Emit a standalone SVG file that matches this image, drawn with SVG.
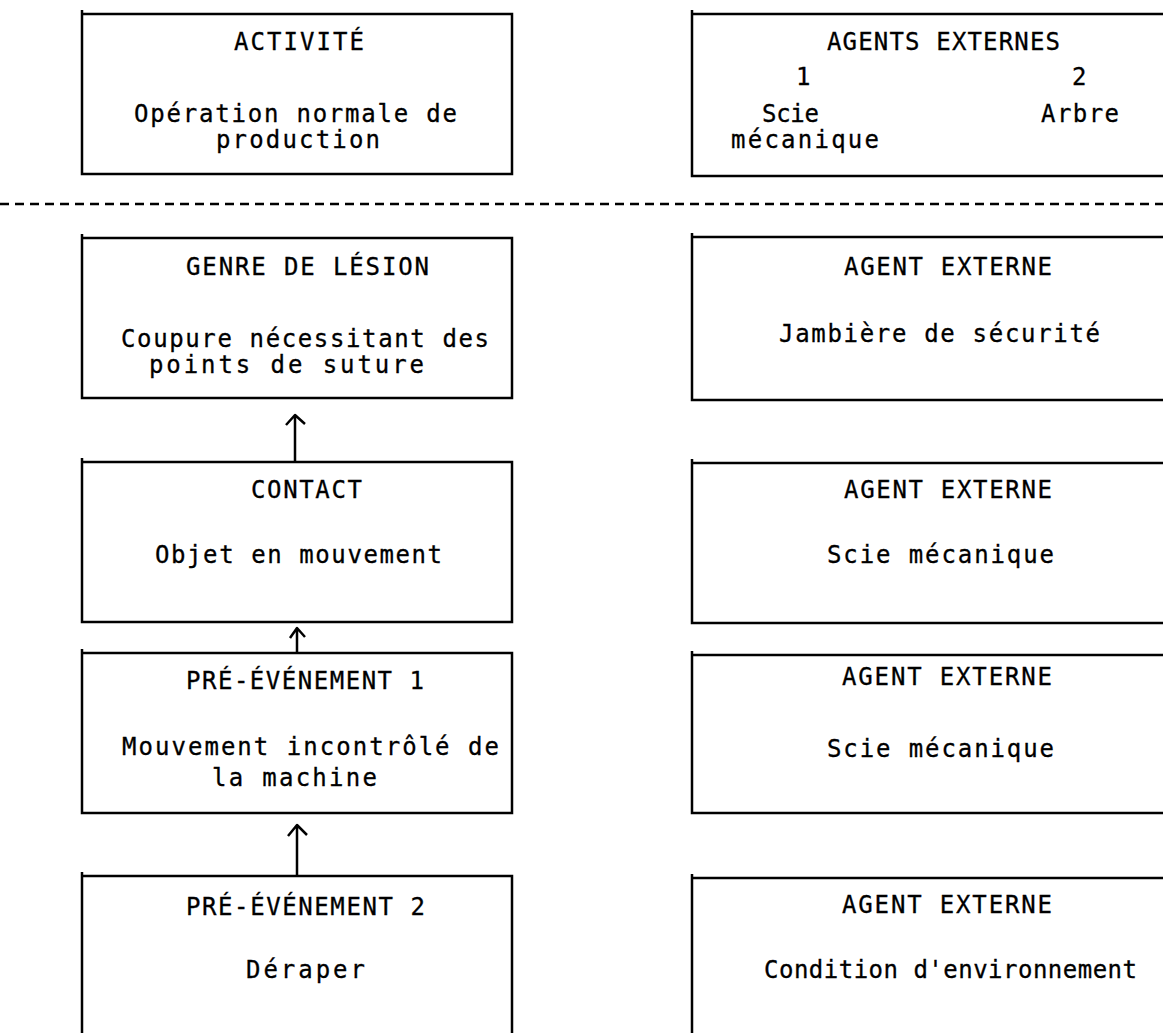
<svg xmlns="http://www.w3.org/2000/svg" width="1163" height="1033" viewBox="0 0 1163 1033">
  <style>
    .frame { fill: none; stroke: #000; stroke-width: 2.5; }
    .sep { stroke: #000; stroke-width: 2.5; stroke-dasharray: 9 6; }
    .arrow { fill: none; stroke: #000; stroke-width: 2.5; stroke-linejoin: round; }
    .t { font-family: "DejaVu Sans Mono", "Liberation Mono", monospace; font-size: 24px; fill: #000; stroke: #000; stroke-width: 0.3; }
  </style>
  <rect width="1163" height="1033" fill="#fff"/>

  <!-- upper row: activity and external agents -->
  <g id="activite">
    <path class="frame" d="M82,10 V174 H512 V14 H82"/>
    <text class="t" x="234" y="50" textLength="130" lengthAdjust="spacing">ACTIVITÉ</text>
    <text class="t" x="134" y="122" textLength="323" lengthAdjust="spacing">Opération normale de</text>
    <text class="t" x="216" y="148" textLength="164" lengthAdjust="spacing">production</text>
  </g>
  <g id="agents-externes">
    <path class="frame" d="M692,10 V176 H1170 M692,14 H1170"/>
    <text class="t" x="827" y="50" textLength="233" lengthAdjust="spacing">AGENTS EXTERNES</text>
    <text class="t" x="796" y="85">1</text>
    <text class="t" x="1072" y="85">2</text>
    <text class="t" x="762" y="122" textLength="57" lengthAdjust="spacing">Scie</text>
    <text class="t" x="1041" y="122" textLength="78" lengthAdjust="spacing">Arbre</text>
    <text class="t" x="731" y="148" textLength="148" lengthAdjust="spacing">mécanique</text>
  </g>

  <!-- dashed divider -->
  <line class="sep" x1="0" y1="204" x2="1163" y2="204"/>

  <!-- left column: event chain -->
  <g id="genre-lesion">
    <path class="frame" d="M82,234 V398 H512 V238 H82"/>
    <text class="t" x="186" y="275" textLength="243" lengthAdjust="spacing">GENRE DE LÉSION</text>
    <text class="t" x="121" y="347" textLength="368" lengthAdjust="spacing">Coupure nécessitant des</text>
    <text class="t" x="149" y="373" textLength="275" lengthAdjust="spacing">points de suture</text>
  </g>
  <g id="contact">
    <path class="frame" d="M82,458 V622 H512 V462 H82"/>
    <text class="t" x="251" y="498" textLength="111" lengthAdjust="spacing">CONTACT</text>
    <text class="t" x="155" y="563" textLength="287" lengthAdjust="spacing">Objet en mouvement</text>
  </g>
  <g id="pre-evenement-1">
    <path class="frame" d="M82,649 V813 H512 V653 H82"/>
    <text class="t" x="186" y="689" textLength="238" lengthAdjust="spacing">PRÉ-ÉVÉNEMENT 1</text>
    <text class="t" x="122" y="755" textLength="377" lengthAdjust="spacing">Mouvement incontrôlé de</text>
    <text class="t" x="212" y="786" textLength="165" lengthAdjust="spacing">la machine</text>
  </g>
  <g id="pre-evenement-2">
    <path class="frame" d="M82,1040 V872 M82,876 H512 V1040"/>
    <text class="t" x="186" y="915" textLength="239" lengthAdjust="spacing">PRÉ-ÉVÉNEMENT 2</text>
    <text class="t" x="246" y="978" textLength="119" lengthAdjust="spacing">Déraper</text>
  </g>

  <!-- right column: external agents -->
  <g id="agent-jambiere">
    <path class="frame" d="M692,233 V400 H1170 M692,237 H1170"/>
    <text class="t" x="844" y="275" textLength="208" lengthAdjust="spacing">AGENT EXTERNE</text>
    <text class="t" x="779" y="342" textLength="321" lengthAdjust="spacing">Jambière de sécurité</text>
  </g>
  <g id="agent-scie-1">
    <path class="frame" d="M692,459 V623 H1170 M692,463 H1170"/>
    <text class="t" x="844" y="498" textLength="208" lengthAdjust="spacing">AGENT EXTERNE</text>
    <text class="t" x="827" y="563" textLength="227" lengthAdjust="spacing">Scie mécanique</text>
  </g>
  <g id="agent-scie-2">
    <path class="frame" d="M692,651 V813 H1170 M692,655 H1170"/>
    <text class="t" x="842" y="685" textLength="210" lengthAdjust="spacing">AGENT EXTERNE</text>
    <text class="t" x="827" y="757" textLength="227" lengthAdjust="spacing">Scie mécanique</text>
  </g>
  <g id="agent-environnement">
    <path class="frame" d="M692,1040 V874 M692,878 H1170"/>
    <text class="t" x="842" y="913" textLength="210" lengthAdjust="spacing">AGENT EXTERNE</text>
    <text class="t" x="764" y="978" textLength="373" lengthAdjust="spacing">Condition d'environnement</text>
  </g>

  <!-- connectors -->
  <g id="connectors">
    <path class="arrow" d="M295,462 V415 M286,425 L295,415 L305,424"/>
    <path class="arrow" d="M297,653 V628 M290,638 L297,628 L305,637" stroke-width="3.5"/>
    <path class="arrow" d="M297,876 V825 M288,836 L297,825 L307,835"/>
  </g>
</svg>
